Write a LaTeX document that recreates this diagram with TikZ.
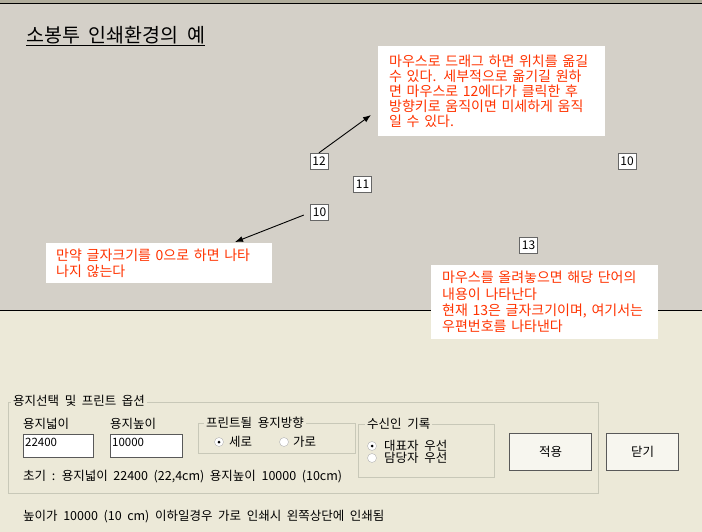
\documentclass[tikz,border=0pt]{standalone}
\usepackage{fontspec}
\setmainfont{Noto Sans CJK KR}[WordSpace=2]
\usepackage{tikz}
\usetikzlibrary{arrows.meta}

\definecolor{wingrey}{RGB}{212,208,200}
\definecolor{winbeige}{RGB}{236,233,216}
\definecolor{topband}{RGB}{176,172,156}
\definecolor{notered}{RGB}{255,51,0}
\definecolor{framegrey}{RGB}{200,200,184}

\tikzset{
  note/.style={fill=white, text=notered, align=left, anchor=north west,
    inner xsep=11pt, inner ysep=0pt, font=\fontsize{14}{15}\selectfont},
  num/.style={draw=gray!80!black, fill=white, minimum width=18pt,
    minimum height=16pt, inner sep=0pt, font=\fontsize{12}{12}\selectfont},
  uitext/.style={anchor=base west, inner sep=0pt, font=\fontsize{12.5}{15}\selectfont},
  grouptitle/.style={uitext, fill=winbeige, inner xsep=2pt, inner ysep=1pt},
  field/.style={draw=gray!70!black, fill=white, anchor=north west,
    minimum height=21pt, inner xsep=2pt, align=left, text height=9pt,
    text depth=7pt, font=\fontsize{11.5}{11.5}\selectfont},
  grp/.style={draw=framegrey, line width=1pt},
  radio/.style={circle, draw=gray!60, fill=white, minimum size=9pt, inner sep=0pt},
  btn/.style={draw=gray!70!black, fill=winbeige!40!white, anchor=north west,
    minimum height=37pt, line width=1pt, font=\fontsize{12.5}{15}\selectfont},
  pointer/.style={-{Latex[length=8pt,width=6pt]}, line width=0.9pt}
}

\begin{document}
\begin{tikzpicture}[x=1pt,y=-1pt]
        \useasboundingbox (0,0) rectangle (702,532);
        % window background
        \fill[wingrey] (0,0) rectangle (702,310);
        \fill[winbeige] (0,310) rectangle (702,532);
        \fill[topband] (0,0) rectangle (702,3);
        \draw[line width=1pt] (0,3.5) -- (702,3.5);
        \draw[line width=1pt] (0,310) -- (702,310);

        \node[anchor=base west, inner sep=0pt, font=\fontsize{19.5}{19.5}\selectfont] (T) at (26,42.5) {\underline{소봉투 인쇄환경의 예}};

        % notes
        \node[note, text width=205pt, minimum height=90pt] (B1) at (378,46) {마우스로 드래그 하면 위치를 옮길\\수 있다. 세부적으로 옮기길 원하\\면 마우스로 12에다가 클릭한 후\\방향키로 움직이면 미세하게 움직\\일 수 있다.};
        \node[note, inner xsep=10pt, text width=206pt, minimum height=40pt, font=\fontsize{14}{16}\selectfont] (B2) at (46,243) {만약 글자크기를 0으로 하면 나타\\나지 않는다};
        \node[note, text width=205pt, minimum height=74pt, font=\fontsize{14}{16.3}\selectfont] (B3) at (431,265) {마우스를 올려놓으면 해당 단어의\\내용이 나타난다\\현재 13은 글자크기이며, 여기서는\\우편번호를 나타낸다};

        % number boxes
        \node[num] (N12) at (319,161) {12};
        \node[num] (N11) at (362.5,184) {11};
        \node[num] (N10a) at (319.5,212.5) {10};
        \node[num] (N10b) at (627,161) {10};
        \node[num] (N13) at (528.5,245) {13};

        \coordinate (P1) at (371,115);
        \coordinate (P2) at (235,242);
        \draw[pointer] (N12.north) -- (P1);
        \draw[pointer, shorten <=7pt] (N10a.west) -- (P2);

        % print options
        \draw[grp] (8,402) rectangle (598,493);
        \node[grouptitle] (G1) at (11,405) {용지선택 및 프린트 옵션};
        \node[uitext] (W) at (23,428) {용지넓이};
        \node[uitext] (H) at (110,428) {용지높이};
        \node[field, text width=66pt] (FW) at (23,434) {22400};
        \node[field, text width=68pt] (FH) at (110,434) {10000};

        \draw[grp] (198,423) rectangle (355,453);
        \node[grouptitle] (G2) at (204,427) {프린트될 용지방향};
        \node[radio] (R1) at (219,442) {};
        \fill (R1) circle (1.5pt);
        \node[uitext] (V) at (229,446.5) {세로};
        \node[radio] (R2) at (284,442) {};
        \node[uitext] (L) at (293,446.5) {가로};

        \node[uitext] (I) at (23,480.5) {초기 : 용지넓이 22400 (22,4cm) 용지높이 10000 (10cm)};

        \draw[grp] (358,424) rectangle (494,477);
        \node[grouptitle] (G3) at (365,428) {수신인 기록};
        \node[radio] (R3) at (372,446) {};
        \fill (R3) circle (1.5pt);
        \node[uitext] (S1) at (384,450.5) {대표자 우선};
        \node[radio] (R4) at (372,458) {};
        \node[uitext] (S2) at (384,462) {담당자 우선};

        \node[btn, minimum width=82pt] (A) at (509,433) {적용};
        \node[btn, minimum width=72pt] (C) at (606,433) {닫기};

        \node[uitext] (X) at (23,520) {높이가 10000 (10 cm) 이하일경우 가로 인쇄시 왼쪽상단에 인쇄됨};
    \end{tikzpicture}
\end{document}
